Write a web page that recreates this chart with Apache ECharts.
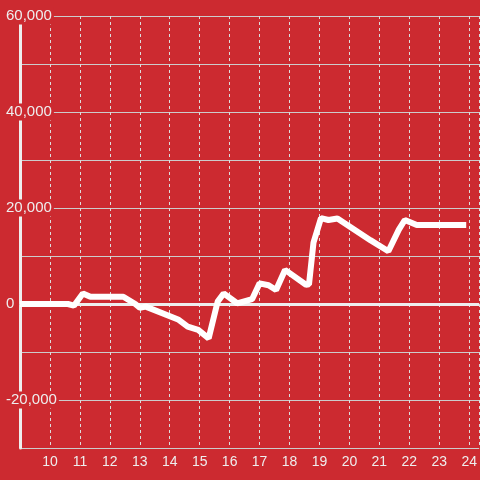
<!DOCTYPE html>
<html>
<head>
<meta charset="utf-8">
<script src="https://cdn.jsdelivr.net/npm/echarts@6/dist/echarts.min.js"></script>
<style>
  html, body { margin: 0; padding: 0; background: #cc2a30; }
  #main { width: 480px; height: 480px; }
</style>
</head>
<body>
<div id="main"></div>
<script>
// hour of day -> value
var hours = [9, 10.6, 10.8, 11.1, 11.35, 12.45, 12.85, 13.0, 13.2, 14.3, 14.6, 14.95, 15.3, 15.6, 15.8,
  16.25, 16.75, 17.0, 17.3, 17.55, 17.85, 18.55, 18.65, 18.8, 19.05, 19.3, 19.6, 20.7, 21.3, 21.65,
  21.85, 22.25, 23.9];
var values = [0, 0, -350, 2200, 1500, 1500, 0, -800, -550, -3300, -4700, -5400, -7150, 500, 2200,
  150, 1000, 4300, 3900, 2900, 7100, 4000, 4100, 12800, 17900, 17500, 17800, 13300, 11000, 15500,
  17500, 16450, 16450];

var points = hours.map(function (h, i) { return [h, values[i]]; });

var chart = echarts.init(document.getElementById('main'));
chart.setOption({
  backgroundColor: '#cc2a30',
  animation: false,
  grid: {
    left: 20,
    right: 0,
    top: 16,
    bottom: 32
  },
  xAxis: {
    type: 'value',
    min: 9,
    max: 24 + 1 / 3,
    interval: 1,
    axisLine: { lineStyle: { color: '#ccc', width: 1 } },
    axisTick: { show: false },
    axisLabel: {
      color: '#eee',
      fontSize: 14,
      margin: 7,
      showMinLabel: false,
      showMaxLabel: false
    },
    splitLine: {
      show: true,
      lineStyle: { color: '#ddd', type: [3, 3], width: 1 }
    }
  },
  yAxis: {
    type: 'value',
    min: -30000,
    max: 60000,
    interval: 10000,
    axisLine: { show: true, lineStyle: { color: '#eee', width: 3 } },
    axisTick: { show: false },
    axisLabel: {
      color: '#eee',
      fontSize: 15,
      align: 'left',
      margin: 14,
      backgroundColor: '#cc2a30',
      padding: [1, 2, 1, 0],
      formatter: function (v) {
        return v % 20000 === 0 ? v.toLocaleString('en-US') : '';
      }
    },
    splitLine: {
      show: true,
      lineStyle: { color: '#ccc', width: 1 }
    }
  },
  series: [{
    type: 'line',
    data: points,
    showSymbol: false,
    lineStyle: { color: '#fff', width: 6 },
    markLine: {
      silent: true,
      symbol: 'none',
      label: { show: false },
      lineStyle: { color: '#eee', width: 3, type: 'solid' },
      data: [{ yAxis: 0 }],
      z: 1
    }
  }]
});
</script>
</body>
</html>
